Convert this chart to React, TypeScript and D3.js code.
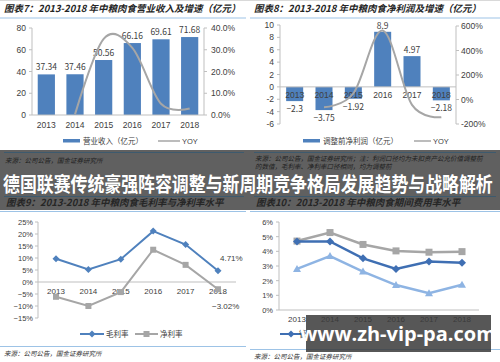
import React from 'react';
import * as d3 from 'd3';

const years = ['2013', '2014', '2015', '2016', '2017', '2018'];
const revenue = [37.34, 37.46, 50.56, 66.16, 69.61, 71.68];
const revenueYoy = [null, 0.3, 35.0, 30.9, 5.2, 3.0];
const profit = [-2.3, -3.75, -1.92, 8.9, 4.97, -2.18];
const profitYoy = [null, -63, 49, 563, -44, -144];
const grossMargin = [9.7, 5.2, 9.5, 21.2, 15.6, 4.71];
const netMargin = [-6.16, -10.0, -4.2, 13.45, 7.14, -3.02];
const expenseTotal = [4.7, 5.28, 4.47, 4.03, 3.94, 3.98];
const adminExpense = [4.67, 4.67, 3.52, 2.8, 3.3, 3.22];
const salesExpense = [2.8, 3.68, 2.62, 1.7, 1.15, 1.72];

const revTicks = [0, 20, 40, 60, 80];
const revYoyTicks = [0, 10, 20, 30, 40];
const profitTicks = [-6, -4, -2, 0, 2, 4, 6, 8, 10];
const profitYoyTicks = [-200, 0, 200, 400, 600];
const marginTicks = [-15, -10, -5, 0, 5, 10, 15, 20, 25];
const expenseTicks = [0, 1, 2, 3, 4, 5, 6];

const BLUE = '#4f81bd';
const GRAY = '#a6a6a6';
const AXIS = '#bfbfbf';
const TXT = '#404040';
const SANS = '"Liberation Sans", Arial, sans-serif';
const CJK = '"Noto Sans CJK SC", sans-serif';

type Pt = { x: number; y: number };

const smooth = d3.line<Pt>().x(d => d.x).y(d => d.y).curve(d3.curveCardinal.tension(0));
const straight = d3.line<Pt>().x(d => d.x).y(d => d.y);

const Diamond = ({ x, y, r, fill }: { x: number; y: number; r: number; fill: string }) => (
  <path d={`M${x},${y - r}L${x + r},${y}L${x},${y + r}L${x - r},${y}Z`} fill={fill} />
);

const Title = ({ x, y, text }: { x: number; y: number; text: string }) => (
  <text x={x} y={y} fontFamily={CJK} fontSize={9.5} fontWeight={700} fontStyle="italic" fill="#262626">
    {text}
  </text>
);

const RevenueChart = () => {
  const x = d3.scaleBand<string>().domain(years).range([32, 204]).paddingInner(0.4).paddingOuter(0.2);
  const y = d3.scaleLinear().domain([0, 80]).range([115, 28]);
  const y2 = d3.scaleLinear().domain([0, 40]).range([115, 28]);
  const pts: Pt[] = [];
  revenueYoy.forEach((v, i) => {
    if (v !== null) pts.push({ x: x(years[i])! + x.bandwidth() / 2, y: y2(v) });
  });
  return (
    <g>
      <Title x={4} y={12} text="图表7：2013-2018 年中粮肉食营业收入及增速（亿元）" />
      <line x1={0} x2={246} y1={18} y2={18} stroke="#9dc3e6" strokeWidth={1} />
      <line x1={32} x2={32} y1={28} y2={115} stroke={AXIS} />
      <line x1={204} x2={204} y1={28} y2={115} stroke={AXIS} />
      {revTicks.map(t => (
        <g key={t}>
          <line x1={29} x2={32} y1={y(t)} y2={y(t)} stroke={AXIS} />
          <text x={26} y={y(t) + 3} textAnchor="end" fontFamily={SANS} fontSize={8.5} fill={TXT}>{t}</text>
        </g>
      ))}
      {revYoyTicks.map(t => (
        <g key={t}>
          <line x1={204} x2={207} y1={y2(t)} y2={y2(t)} stroke={AXIS} />
          <text x={211} y={y2(t) + 3} fontFamily={SANS} fontSize={8.5} fill={TXT}>{t.toFixed(1)}%</text>
        </g>
      ))}
      {revenue.map((v, i) => (
        <g key={i}>
          <rect x={x(years[i])} y={y(v)} width={x.bandwidth()} height={y(0) - y(v)} fill={BLUE} />
          <text x={x(years[i])! + x.bandwidth() / 2} y={y(v) - 4} textAnchor="middle" fontFamily={CJK} fontSize={8.5} fill={TXT}>
            {v.toFixed(2)}
          </text>
          <text x={x(years[i])! + x.bandwidth() / 2} y={128} textAnchor="middle" fontFamily={SANS} fontSize={8.5} fill={TXT}>
            {years[i]}
          </text>
        </g>
      ))}
      <line x1={32} x2={204} y1={115} y2={115} stroke={AXIS} />
      <path d={smooth(pts) || ''} fill="none" stroke={GRAY} strokeWidth={2} />
      <rect x={63} y={139} width={17} height={3.5} fill={BLUE} />
      <text x={83} y={144} fontFamily={CJK} fontSize={7.5} fill={TXT}>营业收入（亿元）</text>
      <line x1={158} x2={180} y1={141} y2={141} stroke={GRAY} strokeWidth={1.5} />
      <text x={182} y={144} fontFamily={SANS} fontSize={7.5} fill={TXT}>YOY</text>
    </g>
  );
};

const ProfitChart = () => {
  const x = d3.scaleBand<string>().domain(years).range([280, 456]).paddingInner(0.42).paddingOuter(0.21);
  const y = d3.scaleLinear().domain([-6, 10]).range([124, 25]);
  const y2 = d3.scaleLinear().domain([-200, 600]).range([124, 26]);
  const pts: Pt[] = [];
  profitYoy.forEach((v, i) => {
    if (v !== null) pts.push({ x: x(years[i])! + x.bandwidth() / 2, y: y2(v) });
  });
  return (
    <g>
      <Title x={254} y={12} text="图表8：2013-2018 年中粮肉食净利润及增速（亿元）" />
      <line x1={250} x2={500} y1={18} y2={18} stroke="#9dc3e6" strokeWidth={1} />
      <line x1={280} x2={280} y1={25} y2={124} stroke={AXIS} />
      <line x1={456} x2={456} y1={26} y2={124} stroke={AXIS} />
      {profitTicks.map(t => (
        <g key={t}>
          <line x1={277} x2={280} y1={y(t)} y2={y(t)} stroke={AXIS} />
          <text x={274} y={y(t) + 3} textAnchor="end" fontFamily={SANS} fontSize={8.5} fill={TXT}>{t}</text>
        </g>
      ))}
      {profitYoyTicks.map(t => (
        <g key={t}>
          <line x1={456} x2={459} y1={y2(t)} y2={y2(t)} stroke={AXIS} />
          <text x={461} y={y2(t) + 3} fontFamily={SANS} fontSize={8.5} fill={TXT}>{t}%</text>
        </g>
      ))}
      {profit.map((v, i) => {
        const cx = x(years[i])! + x.bandwidth() / 2;
        return (
          <g key={i}>
            <rect x={x(years[i])} y={y(Math.max(0, v))} width={x.bandwidth()} height={Math.abs(y(v) - y(0))} fill={BLUE} />
            <text x={cx} y={v >= 0 ? y(v) - 3 : y(v) + 11} textAnchor="middle" fontFamily={CJK} fontSize={8.5} fill={TXT}>
              {v < 0 ? '\u2212' + Math.abs(v) : String(v)}
            </text>
          </g>
        );
      })}
      <line x1={280} x2={456} y1={y(0)} y2={y(0)} stroke={AXIS} />
      {years.map(yr => (
        <text key={yr} x={x(yr)! + x.bandwidth() / 2} y={y(0) + 11} textAnchor="middle" fontFamily={SANS} fontSize={8.5} fill={TXT}>
          {yr}
        </text>
      ))}
      <path d={smooth(pts) || ''} fill="none" stroke={GRAY} strokeWidth={2} />
      <rect x={303} y={139} width={17} height={3.5} fill={BLUE} />
      <text x={323} y={144} fontFamily={CJK} fontSize={7.5} fill={TXT}>调整前净利润（亿元）</text>
      <line x1={414} x2={431} y1={141} y2={141} stroke={GRAY} strokeWidth={1.5} />
      <text x={433} y={144} fontFamily={SANS} fontSize={7.5} fill={TXT}>YOY</text>
    </g>
  );
};

const MarginChart = () => {
  const x = d3.scalePoint<string>().domain(years).range([56, 218]);
  const y = d3.scaleLinear().domain([-15, 25]).range([318, 222]);
  const gross: Pt[] = grossMargin.map((v, i) => ({ x: x(years[i])!, y: y(v) }));
  const net: Pt[] = netMargin.map((v, i) => ({ x: x(years[i])!, y: y(v) }));
  return (
    <g>
      <line x1={0} x2={246} y1={211.5} y2={211.5} stroke="#9dc3e6" strokeWidth={1} />
      <line x1={38} x2={38} y1={222} y2={318} stroke={AXIS} />
      {marginTicks.map(t => (
        <g key={t}>
          <line x1={35} x2={38} y1={y(t)} y2={y(t)} stroke={AXIS} />
          <text x={33} y={y(t) + 3} textAnchor="end" fontFamily={SANS} fontSize={7.5} fill={TXT}>{t < 0 ? '\u2212' + -t : t}%</text>
        </g>
      ))}
      <line x1={38} x2={236} y1={y(0)} y2={y(0)} stroke={AXIS} />
      {years.map(yr => (
        <text key={yr} x={x(yr)} y={y(0) + 12} textAnchor="middle" fontFamily={SANS} fontSize={8} fill={TXT}>{yr}</text>
      ))}
      <path d={straight(net) || ''} fill="none" stroke={GRAY} strokeWidth={2} />
      {net.map((p, i) => <rect key={i} x={p.x - 3} y={p.y - 3} width={6} height={6} fill={GRAY} />)}
      <path d={straight(gross) || ''} fill="none" stroke={BLUE} strokeWidth={2} />
      {gross.map((p, i) => <Diamond key={i} x={p.x} y={p.y} r={3.5} fill={BLUE} />)}
      <text x={220} y={261} fontFamily={SANS} fontSize={8} fill={TXT}>4.71%</text>
      <text x={212} y={309} fontFamily={SANS} fontSize={8} fill={TXT}>{'\u2212'}3.02%</text>
      <line x1={80} x2={104} y1={334} y2={334} stroke={BLUE} strokeWidth={2} />
      <Diamond x={92} y={334} r={3.5} fill={BLUE} />
      <text x={106} y={337} fontFamily={CJK} fontSize={7.5} fill={TXT}>毛利率</text>
      <line x1={135} x2={158} y1={334} y2={334} stroke={GRAY} strokeWidth={2} />
      <rect x={143.5} y={331} width={6} height={6} fill={GRAY} />
      <text x={160} y={337} fontFamily={CJK} fontSize={7.5} fill={TXT}>净利率</text>
      <line x1={0} x2={246} y1={346.5} y2={346.5} stroke="#9dc3e6" strokeWidth={1} />
      <text x={4} y={356} fontFamily={CJK} fontSize={6.5} fontStyle="italic" fill="#333">来源：公司公告，国金证券研究所</text>
    </g>
  );
};

const ExpenseChart = () => {
  const x = d3.scalePoint<string>().domain(years).range([297, 462]);
  const y = d3.scaleLinear().domain([0, 6]).range([310, 222]);
  const series = [
    { values: expenseTotal, color: '#a6a6a6', mark: 'square', name: '期间费用率' },
    { values: salesExpense, color: '#8eb4e3', mark: 'triangle', name: '销售费用率' },
    { values: adminExpense, color: '#3f6fb3', mark: 'diamond', name: '管理费用率' },
  ];
  return (
    <g>
      <defs>
        <clipPath id="legend-clip">
          <rect x={250} y={320} width={56} height={25} />
        </clipPath>
      </defs>
      <line x1={250} x2={500} y1={211.5} y2={211.5} stroke="#9dc3e6" strokeWidth={1} />
      <line x1={279} x2={279} y1={222} y2={310} stroke={AXIS} />
      {expenseTicks.map(t => (
        <g key={t}>
          <line x1={276} x2={279} y1={y(t)} y2={y(t)} stroke={AXIS} />
          <text x={273} y={y(t) + 3} textAnchor="end" fontFamily={SANS} fontSize={7.5} fill={TXT}>{t}%</text>
        </g>
      ))}
      <line x1={279} x2={479} y1={310} y2={310} stroke={AXIS} />
      {years.map(yr => (
        <text key={yr} x={x(yr)} y={322} textAnchor="middle" fontFamily={SANS} fontSize={8} fill={TXT}>{yr}</text>
      ))}
      {series.map(s => {
        const pts: Pt[] = s.values.map((v, i) => ({ x: x(years[i])!, y: y(v) }));
        return (
          <g key={s.name}>
            <path d={straight(pts) || ''} fill="none" stroke={s.color} strokeWidth={2.5} />
            {pts.map((p, i) =>
              s.mark === 'square' ? (
                <rect key={i} x={p.x - 3.5} y={p.y - 3.5} width={7} height={7} fill={s.color} />
              ) : s.mark === 'triangle' ? (
                <path key={i} d={`M${p.x},${p.y - 4}L${p.x + 4},${p.y + 3}L${p.x - 4},${p.y + 3}Z`} fill={s.color} />
              ) : (
                <Diamond key={i} x={p.x} y={p.y} r={4} fill={s.color} />
              )
            )}
          </g>
        );
      })}
      {/* legend: only the first entry peeks out from under the watermark */}
      <line x1={280} x2={302} y1={334} y2={334} stroke="#3f6fb3" strokeWidth={2} />
      <Diamond x={291} y={334} r={3.5} fill="#3f6fb3" />
      <g clipPath="url(#legend-clip)">
        <text x={299} y={337} fontFamily={CJK} fontSize={7.5} fill={TXT}>管理费用率</text>
      </g>
      <line x1={250} x2={500} y1={349.5} y2={349.5} stroke="#9dc3e6" strokeWidth={1} />
      <text x={254} y={359} fontFamily={CJK} fontSize={6.5} fontStyle="italic" fill="#333">来源：公司公告，国金证券研究所</text>
    </g>
  );
};

export default function App() {
  return (
    <div style={{ position: 'absolute', left: 0, top: 0 }}>
      <svg width={500} height={362} style={{ display: 'block', background: '#fff' }}>
        <line x1={0} x2={500} y1={0.5} y2={0.5} stroke="#d9d9d9" />
        <RevenueChart />
        <ProfitChart />
        <MarginChart />
        <ExpenseChart />

        {/* dark banner across the middle */}
        <rect x={0} y={150} width={500} height={60} fill="#606060" />
        <line x1={4} x2={244} y1={152.5} y2={152.5} stroke="#3d5a6e" />
        <line x1={254} x2={496} y1={152.5} y2={152.5} stroke="#3d5a6e" />
        <text x={5} y={163} fontFamily={CJK} fontSize={6.5} fontStyle="italic" fill="#1e1e1e">来源：公司公告，国金证券研究所</text>
        <text x={255} y={161} fontFamily={CJK} fontSize={6.5} fontStyle="italic" fill="#1e1e1e">来源：公司公告，国金证券研究所；注：利润口径均为未扣资产公允价值调整前</text>
        <text x={255} y={169} fontFamily={CJK} fontSize={6.5} fontStyle="italic" fill="#1e1e1e">的数值，毛利率、净利率口径相同，均为调整前</text>
        <text transform="translate(3,192) scale(1,1.18)" fontFamily={CJK} fontSize={16.9} fontWeight={700} fill="#fff">
          德国联赛传统豪强阵容调整与新周期竞争格局发展趋势与战略解析
        </text>
        <line x1={4} x2={244} y1={196.5} y2={196.5} stroke="#3d5a6e" />
        <line x1={254} x2={496} y1={196.5} y2={196.5} stroke="#3d5a6e" />
        <Title x={6} y={206} text="图表9：2013-2018 年中粮肉食毛利率与净利率水平" />
        <Title x={256} y={206} text="图表10：2013-2018 年中粮肉食期间费用率水平" />

        {/* watermark, translucent so the axis labels show through as in the source */}
        <rect x={306} y={315} width={185} height={37} fill="#3a3a3a" fillOpacity={0.85} />
        <text x={398} y={341} textAnchor="middle" fontFamily='"Open Sans", "DejaVu Sans", sans-serif' fontSize={20} fontWeight={700} fill="#fff">
          www.zh-vip-pa.com
        </text>
      </svg>
    </div>
  );
}
